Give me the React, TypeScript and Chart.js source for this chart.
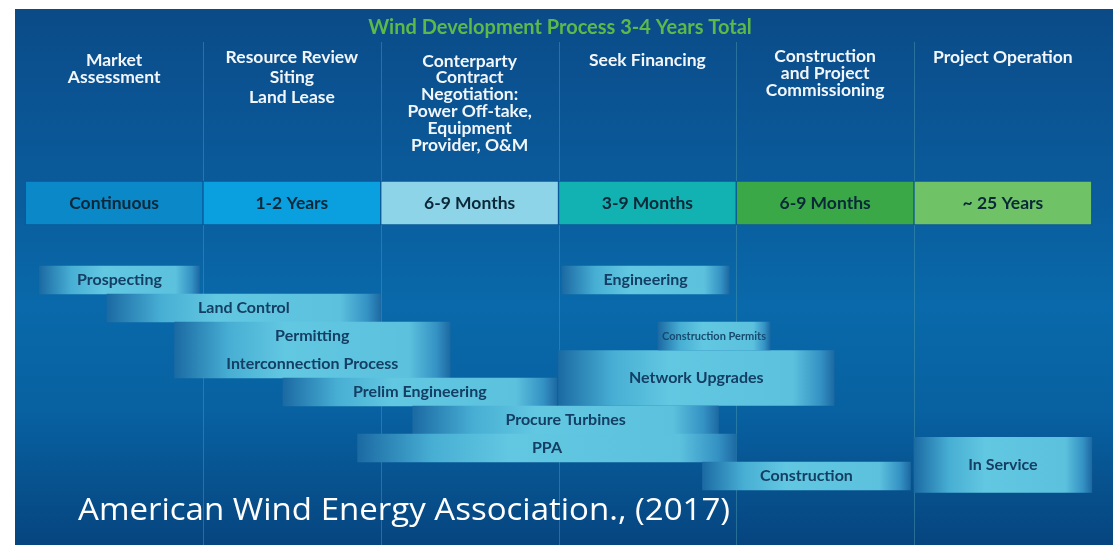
import React, { useEffect, useRef } from 'react';
import { Chart, registerables } from 'chart.js';

Chart.register(...registerables);

// ---------- data ----------
const TITLE = 'Wind Development Process 3-4 Years Total';
const PHASE_HEADERS: string[][] = [
  ['Market', 'Assessment'],
  ['Resource Review', 'Siting', 'Land Lease'],
  ['Conterparty', 'Contract', 'Negotiation:', 'Power Off-take,', 'Equipment', 'Provider, O&M'],
  ['Seek Financing'],
  ['Construction', 'and Project', 'Commissioning'],
  ['Project Operation'],
];
const PHASE_DURATIONS = ['Continuous', '1-2 Years', '6-9 Months', '3-9 Months', '6-9 Months', '~ 25 Years'];
const PHASE_STARTS = [0, 1, 2, 3, 4, 5];
const PHASE_ENDS = [1, 2, 3, 4, 5, 6];

const ACTIVITIES = [
  'Prospecting', 'Land Control', 'Permitting', 'Interconnection Process', 'Prelim Engineering',
  'Procure Turbines', 'PPA', 'Construction', 'Engineering', 'Construction Permits',
  'Network Upgrades', 'In Service',
];
const ACT_START = [0.08, 0.46, 0.84, 0.84, 1.45, 2.18, 1.87, 3.81, 3.02, 3.56, 3.0, 5.0];
const ACT_END = [0.98, 2.0, 2.39, 2.39, 2.99, 3.9, 4.0, 4.98, 3.96, 4.19, 4.55, 6.0];
const ACT_ROW = [0, 1, 2, 3, 4, 5, 6, 7, 0, 2, 3.5, 6.6];
const ACT_SPAN = [1, 1, 1, 1, 1, 1, 1, 1, 1, 1, 2, 2];

const SOURCE = 'American Wind Energy Association., (2017)';

// ---------- layout / style ----------
const W = 1117;
const H = 545;
const PHASE_ROW = -2.75;
const HEADER_Y0 = [60, 57, 61, 60, 56, 57];
const HEADER_LH = [17, 20, 16.8, 17, 17, 17];
const PHASE_COLORS = ['#0b88c8', '#0aa0df', '#8ed4e8', '#12b1b2', '#3aa847', '#6fc266'];

function barFill(c: any) {
  const chart = c.chart;
  if (!chart.chartArea || !c.raw) return '#5ec5df';
  const xs = chart.scales.x;
  const x0 = xs.getPixelForValue(c.raw.x[0]);
  const x1 = xs.getPixelForValue(c.raw.x[1]);
  const g = chart.ctx.createLinearGradient(x0, 0, x1, 0);
  g.addColorStop(0, '#1b6aa3');
  g.addColorStop(0.2, '#48afd4');
  g.addColorStop(0.4, '#62c7e1');
  g.addColorStop(0.85, '#5cc1dd');
  g.addColorStop(0.95, '#3592c4');
  g.addColorStop(1, '#1d6aa3');
  return g;
}

const panelPlugin = {
  id: 'panel',
  beforeDraw(chart: any) {
    const ctx = chart.ctx;
    ctx.save();
    ctx.fillStyle = '#ffffff';
    ctx.fillRect(0, 0, W, H);
    const g = ctx.createLinearGradient(0, 9, 0, H);
    g.addColorStop(0, '#0a4b87');
    g.addColorStop(0.12, '#0b5190');
    g.addColorStop(0.35, '#0a5c9c');
    g.addColorStop(0.55, '#0969aa');
    g.addColorStop(0.75, '#0861a1');
    g.addColorStop(1, '#06457f');
    ctx.fillStyle = g;
    ctx.fillRect(15, 9, 1098, H - 9);
    ctx.restore();
  },
  beforeDatasetsDraw(chart: any) {
    const ctx = chart.ctx;
    const xs = chart.scales.x;
    ctx.save();
    ctx.strokeStyle = 'rgba(70,150,170,0.5)';
    ctx.lineWidth = 1;
    for (let i = 1; i < PHASE_ENDS.length; i++) {
      const px = Math.round(xs.getPixelForValue(PHASE_STARTS[i])) + 0.5;
      ctx.beginPath();
      ctx.moveTo(px, 42);
      ctx.lineTo(px, H);
      ctx.stroke();
    }
    // title
    ctx.fillStyle = '#5cb94a';
    ctx.font = 'bold 20px Lato';
    ctx.textAlign = 'center';
    ctx.textBaseline = 'middle';
    ctx.fillText(TITLE, 560, 28);
    // headers
    ctx.fillStyle = '#f2f6fa';
    ctx.font = 'bold 17.5px Lato';
    PHASE_HEADERS.forEach((lines, i) => {
      const cx = xs.getPixelForValue((PHASE_STARTS[i] + PHASE_ENDS[i]) / 2);
      lines.forEach((t, j) => ctx.fillText(t, cx, HEADER_Y0[i] + j * HEADER_LH[i]));
    });
    ctx.restore();
  },
  afterDatasetsDraw(chart: any) {
    const ctx = chart.ctx;
    ctx.save();
    ctx.textAlign = 'center';
    ctx.textBaseline = 'middle';
    chart.data.datasets.forEach((ds: any, di: number) => {
      const meta = chart.getDatasetMeta(di);
      meta.data.forEach((el: any, i: number) => {
        const label = ds.labels[i];
        const cx = (el.x + el.base) / 2;
        if (ds.kind === 'phase') {
          ctx.fillStyle = '#0a2838';
          ctx.font = 'bold 17.5px Lato';
        } else if (label === 'Construction Permits') {
          ctx.fillStyle = '#164a70';
          ctx.font = 'bold 11px Lato';
        } else {
          ctx.fillStyle = '#143e64';
          ctx.font = 'bold 16px Lato';
        }
        ctx.fillText(label, cx, el.y);
      });
    });
    ctx.restore();
  },
  afterDraw(chart: any) {
    const ctx = chart.ctx;
    ctx.save();
    ctx.fillStyle = '#ffffff';
    ctx.font = '400 31px "Open Sans"';
    ctx.textAlign = 'left';
    ctx.textBaseline = 'alphabetic';
    const w = ctx.measureText(SOURCE).width;
    ctx.translate(78, 520);
    ctx.scale(652 / w, 1);
    ctx.fillText(SOURCE, 0, 0);
    ctx.restore();
  },
};

export default function App() {
  const ref = useRef<HTMLCanvasElement>(null);
  useEffect(() => {
    if (!ref.current) return;
    const idx = ACTIVITIES.map((_, i) => i);
    const single = idx.filter((i) => ACT_SPAN[i] === 1);
    const dbl = idx.filter((i) => ACT_SPAN[i] === 2);
    const chart = new Chart(ref.current, {
      type: 'bar',
      data: {
        datasets: [
          {
            kind: 'phase',
            labels: PHASE_DURATIONS,
            data: PHASE_STARTS.map((s, i) => ({ x: [s, PHASE_ENDS[i]], y: PHASE_ROW })),
            backgroundColor: PHASE_COLORS,
            borderColor: '#0a5898',
            borderWidth: 1,
            borderSkipped: false,
            barThickness: 44,
            grouped: false,
          } as any,
          {
            kind: 'bar',
            labels: single.map((i) => ACTIVITIES[i]),
            data: single.map((i) => ({ x: [ACT_START[i], ACT_END[i]], y: ACT_ROW[i] })),
            backgroundColor: barFill,
            borderWidth: 0,
            barThickness: 28,
            grouped: false,
          } as any,
          {
            kind: 'bar',
            labels: dbl.map((i) => ACTIVITIES[i]),
            data: dbl.map((i) => ({ x: [ACT_START[i], ACT_END[i]], y: ACT_ROW[i] })),
            backgroundColor: barFill,
            borderWidth: 0,
            barThickness: 55,
            grouped: false,
          } as any,
        ],
      },
      options: {
        indexAxis: 'y',
        responsive: false,
        maintainAspectRatio: false,
        animation: false,
        devicePixelRatio: 1,
        layout: { padding: 0 },
        plugins: {
          legend: { display: false },
          tooltip: { enabled: false },
          title: { display: false },
        },
        scales: {
          x: { type: 'linear', offset: false, min: -25.25 / 177.75, max: 6 + (W - 1091.75) / 177.75, display: false },
          y: { type: 'linear', offset: false, min: -10, max: (H - 280) / 28, reverse: true, display: false },
        },
      },
      plugins: [panelPlugin],
    });
    return () => chart.destroy();
  }, []);
  return (
    <div style={{ position: 'fixed', left: 0, top: 0, width: W, height: H, background: '#fff' }}>
      <canvas ref={ref} width={W} height={H} style={{ display: 'block', width: W, height: H }} />
    </div>
  );
}
